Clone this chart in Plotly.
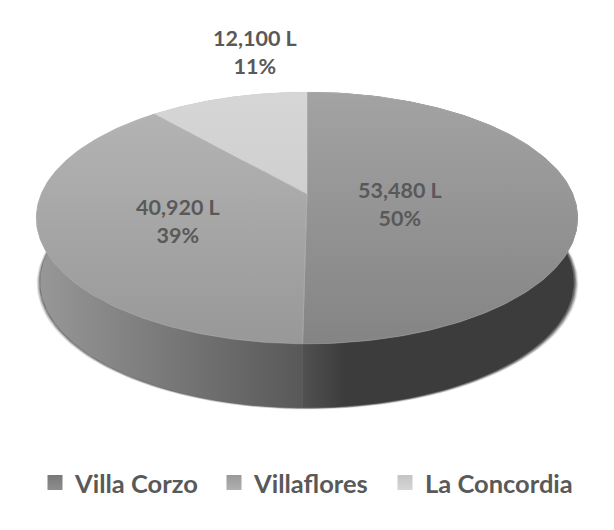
import numpy as np
import plotly.graph_objects as go

# values
municipios = ["Villa Corzo", "Villaflores", "La Concordia"]
litros = [53480, 40920, 12100]
porcentajes = [50, 39, 11]

# look of each slice: top face gradient (far -> near), side gradient (left -> right)
top_colors = [("#a3a3a3", "#848484"), ("#b6b6b6", "#989898"), ("#d6d6d6", "#c6c6c6")]
side_colors = [("#505050", "#3c3c3c"), ("#989898", "#585858"), ("#b0b0b0", "#b0b0b0")]
legend_colors = [("#787878", "#8e8e8e"), ("#999999", "#b0b0b0"), ("#c4c4c4", "#d6d6d6")]
label_pos = [(400, 204), (178, 221), (255, 52)]
legend_x = [35, 214, 385]

# projection of the tilted disc to pixels
CX, APEX_Y = 307, 194
A, B, K = 266, 121.4, 0.19
DEPTH = 64
BOTTOM_SCALE = 0.985  # far end of the extrusion is a bit narrower
TEXT = "#595959"
PAGE_MARGIN = 8  # browser body margin, the axes below stay in window pixels
W, H = 614, 530


def rim(theta):
    # theta clockwise from 12 o'clock
    u, v = np.sin(theta), -np.cos(theta)
    d = 1 - K * v
    return CX + A * u / d, APEX_Y + B * v / d


def lower(x):
    return CX + (x - CX) * BOTTOM_SCALE


fig = go.Figure()

# soft shadow under the pie
t_all = np.linspace(0, 2 * np.pi, 300)
rx, ry = rim(t_all)
for grow, alpha in [(4, 0.12), (3, 0.2), (2, 0.3), (1, 0.45)]:
    fig.add_trace(go.Scatter(
        x=lower(rx) + (rx - CX) * grow / 271 + 0.5, y=ry + DEPTH + grow * 0.4,
        mode="lines", line=dict(width=0), fill="toself",
        fillcolor=f"rgba(50,50,50,{alpha})", hoverinfo="skip", showlegend=False,
    ))

fracs = np.array(litros) / sum(litros)
edges = np.concatenate([[0], np.cumsum(fracs)]) * 2 * np.pi

# sides first, far slice to near
for i in [2, 0, 1]:
    t = np.linspace(edges[i], edges[i + 1], 160)
    x, y = rim(t)
    fig.add_trace(go.Scatter(
        x=np.concatenate([x, lower(x[::-1])]), y=np.concatenate([y, y[::-1] + DEPTH]),
        mode="lines", line=dict(width=0), fill="toself",
        fillgradient=dict(
            type="horizontal",
            colorscale=[[0, side_colors[i][0]], [1, side_colors[i][1]]],
            start=36 if i != 0 else 304,
            stop=304 if i != 0 else 345,
        ),
        hoverinfo="skip", showlegend=False,
    ))

# top faces
for i in range(3):
    t = np.linspace(edges[i], edges[i + 1], 160)
    x, y = rim(t)
    fig.add_trace(go.Scatter(
        x=np.concatenate([[CX], x, [CX]]), y=np.concatenate([[APEX_Y], y, [APEX_Y]]),
        mode="lines", line=dict(width=0.6, color="rgba(225,225,225,0.4)"), fill="toself",
        fillgradient=dict(
            type="vertical",
            colorscale=[[0, top_colors[i][0]], [1, top_colors[i][1]]],
            start=92, stop=344,
        ),
        hoverinfo="skip", showlegend=False,
    ))

# data labels
for i in range(3):
    fig.add_annotation(
        x=label_pos[i][0], y=label_pos[i][1], xref="x", yref="y",
        text=f"{litros[i]:,} L<br>{porcentajes[i]}%", showarrow=False,
        font=dict(family="Lato", size=21.5, color=TEXT, weight="bold"),
        align="center",
    )

# legend entries, one legend each so the spacing can follow the reference
legend_names = ["legend", "legend2", "legend3"]
for i in range(3):
    fig.add_trace(go.Scatter(
        x=[None], y=[None], mode="markers", name=municipios[i], legend=legend_names[i],
        marker=dict(symbol="square", size=15, color=legend_colors[i][0],
                    gradient=dict(type="vertical", color=legend_colors[i][1])),
    ))

fig.update_xaxes(range=[PAGE_MARGIN, W], visible=False, fixedrange=True)
fig.update_yaxes(range=[H, PAGE_MARGIN], visible=False, fixedrange=True)

legends = {}
for i, name in enumerate(legend_names):
    legends[name] = dict(
        orientation="h", x=(legend_x[i] - PAGE_MARGIN) / (W - PAGE_MARGIN), xanchor="left",
        y=(H - 483) / (H - PAGE_MARGIN), yanchor="middle",
        font=dict(family="Lato", size=25.5, color=TEXT, weight="bold"),
        itemwidth=30, bgcolor="rgba(0,0,0,0)",
    )

fig.update_layout(
    width=W - PAGE_MARGIN, height=H - PAGE_MARGIN,
    margin=dict(l=0, r=0, t=0, b=0),
    plot_bgcolor="white", paper_bgcolor="white",
    **legends,
)

fig.write_html("out.html")
